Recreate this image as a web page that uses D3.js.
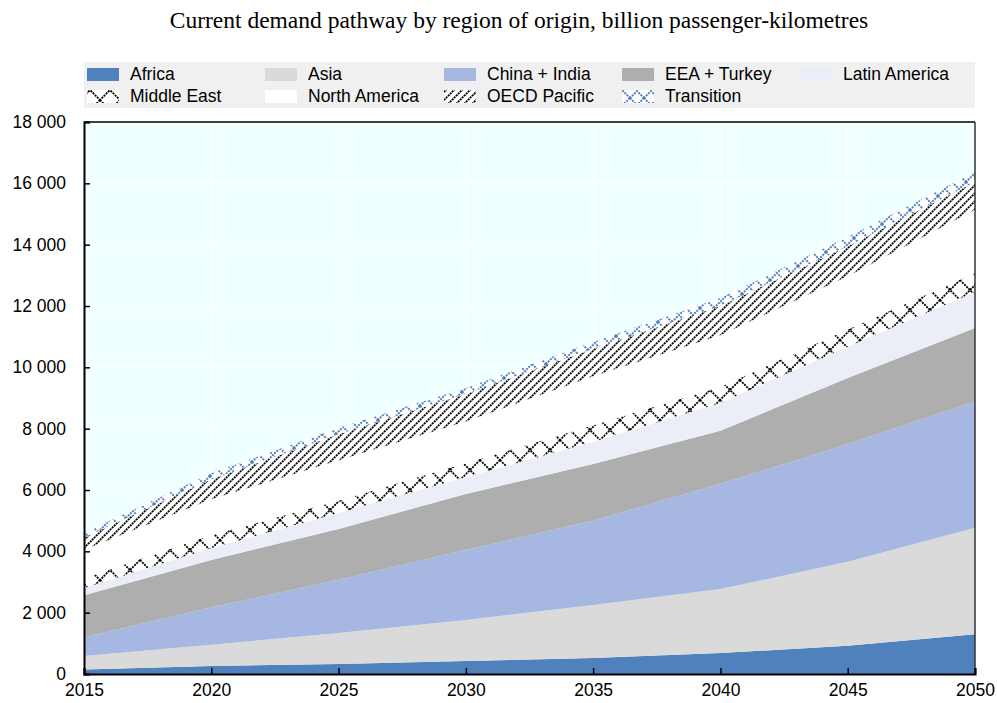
<!DOCTYPE html>
<html><head><meta charset="utf-8">
<script src="https://cdn.jsdelivr.net/npm/d3@7"></script>
<style>body{margin:0;background:#fff}svg{display:block}</style>
</head><body><svg id="c" width="997" height="703"></svg>
<script>
const years = [2015, 2020, 2025, 2030, 2035, 2040, 2045, 2050];
const africa        = [150, 260, 330, 420, 520, 685, 920, 1300];
const asia          = [440, 690, 1010, 1340, 1730, 2085, 2740, 3470];
const chinaIndia    = [610, 1220, 1730, 2280, 2750, 3430, 3830, 4110];
const eeaTurkey     = [1370, 1550, 1660, 1830, 1850, 1730, 2160, 2400];
const latinAmerica  = [235, 390, 520, 550, 720, 910, 1020, 1180];
const middleEast    = [320, 420, 400, 460, 540, 530, 560, 620];
const northAmerica  = [925, 1170, 1320, 1350, 1600, 1680, 1740, 2060];
const oecdPacific   = [400, 650, 850, 900, 900, 950, 980, 900];
const transition    = [150, 200, 200, 200, 220, 260, 300, 330];
const seriesNames = ["Africa","Asia","China + India","EEA + Turkey","Latin America","Middle East","North America","OECD Pacific","Transition"];
const seriesValues = [africa, asia, chinaIndia, eeaTurkey, latinAmerica, middleEast, northAmerica, oecdPacific, transition];
const yTicks = [0,2000,4000,6000,8000,10000,12000,14000,16000,18000];
const xTicks = [2015,2020,2025,2030,2035,2040,2045,2050];
const title = "Current demand pathway by region of origin, billion passenger-kilometres";

const fills = ["#4F81BD","#DADADA","#A6B7E1","#AEAEAE","#EBEEF6","url(#pME)","#FFFFFF","url(#pOP)","url(#pTR)"];

const svg = d3.select("#c");
const W = 997, H = 703;
const m = {l:84, r:22, t:122, b:29};
const x = d3.scaleLinear().domain([2015,2050]).range([m.l, W-m.r]);
const y = d3.scaleLinear().domain([0,18000]).range([H-m.b, m.t]);

// patterns
const defs = svg.append("defs");
function xPattern(id, size, color, sw, dash){
  const p = defs.append("pattern").attr("id",id).attr("patternUnits","userSpaceOnUse")
    .attr("width",size).attr("height",size);
  p.append("rect").attr("width",size).attr("height",size).attr("fill","#fff");
  p.append("path").attr("d",`M0,0L${size},${size}M${size},0L0,${size}`)
    .attr("stroke",color).attr("stroke-width",sw).attr("stroke-dasharray",dash).attr("fill","none");
}
xPattern("pME", 20, "#000", 1.8, "2 1");
xPattern("pTR", 14, "#4F81BD", 2, "2 1");
{
  const s = 8;
  const p = defs.append("pattern").attr("id","pOP").attr("patternUnits","userSpaceOnUse")
    .attr("width",s).attr("height",s);
  p.append("rect").attr("width",s).attr("height",s).attr("fill","#fff");
  p.append("path").attr("d",`M0,${s}L${s},0M${-s/2},${s/2}L${s/2},${-s/2}M${s/2},${s*1.5}L${s*1.5},${s/2}`)
    .attr("stroke","#000").attr("stroke-width",1.8).attr("stroke-dasharray","2 0.8").attr("fill","none");
}

// title
svg.append("text").attr("x",519).attr("y",28).attr("text-anchor","middle")
  .attr("font-family","Liberation Serif, Times New Roman, serif").attr("font-size",23.5)
  .attr("fill","#000").text(title);

// legend
svg.append("rect").attr("x",84).attr("y",62).attr("width",891).attr("height",46).attr("fill","#F0F0F0");
const colX = [87, 265, 444, 622, 800];
seriesNames.forEach((n,i)=>{
  const col = i % 5, row = Math.floor(i/5);
  const cy = 74 + row*22;
  const g = svg.append("g");
  g.append("rect").attr("x",colX[col]).attr("y",cy-6).attr("width",32).attr("height",13).attr("fill",fills[i]);
  g.append("text").attr("x",colX[col]+43).attr("y",cy+6)
    .attr("font-family","Liberation Sans, Arial, sans-serif").attr("font-size",17.5)
    .attr("fill","#000").text(n);
});

// plot background
svg.append("rect").attr("x",m.l).attr("y",m.t).attr("width",W-m.r-m.l).attr("height",H-m.b-m.t).attr("fill","#F0FFFF");
// grid
svg.append("g").selectAll("line").data(yTicks.slice(1,-1)).join("line")
  .attr("x1",m.l).attr("x2",W-m.r).attr("y1",d=>y(d)).attr("y2",d=>y(d)).attr("stroke","#fff").attr("stroke-width",1.5);
svg.append("g").selectAll("line").data(xTicks.slice(1,-1)).join("line")
  .attr("y1",m.t).attr("y2",H-m.b).attr("x1",d=>x(d)).attr("x2",d=>x(d)).attr("stroke","#fff").attr("stroke-width",1.5);

// stacked data
const table = years.map((yr,j)=>{ const o={year:yr}; seriesNames.forEach((n,i)=>o[n]=seriesValues[i][j]); return o; });
const stack = d3.stack().keys(seriesNames)(table);
const area = d3.area().x(d=>x(d.data.year)).y0(d=>y(d[0])).y1(d=>y(d[1]));
svg.append("g").selectAll("path").data(stack).join("path")
  .attr("d",area).attr("fill",(d,i)=>fills[i]);

// frame
svg.append("line").attr("x1",m.l).attr("x2",W-m.r).attr("y1",m.t).attr("y2",m.t).attr("stroke","#000").attr("stroke-width",1.5);
svg.append("line").attr("x1",W-m.r).attr("x2",W-m.r).attr("y1",m.t).attr("y2",H-m.b).attr("stroke","#333").attr("stroke-width",1.5);

// axes
const fmt = d => d3.format(",")(d).replace(/,/g," ");
const ya = svg.append("g").attr("transform",`translate(${m.l},0)`)
  .call(d3.axisLeft(y).tickValues(yTicks).tickSize(-6).tickPadding(18).tickFormat(fmt));
ya.select(".domain").attr("stroke","#000").attr("stroke-width",2);
ya.selectAll(".tick line").attr("stroke","#000").attr("stroke-width",1.5);
ya.selectAll("text").attr("font-family","Liberation Sans, Arial, sans-serif").attr("font-size",17.5).attr("fill","#000");

const xa = svg.append("g").attr("transform",`translate(0,${H-m.b})`)
  .call(d3.axisBottom(x).tickValues(xTicks).tickSize(-6).tickPadding(10).tickFormat(d3.format("d")));
xa.select(".domain").attr("stroke","#000").attr("stroke-width",2);
xa.selectAll(".tick line").attr("stroke","#000").attr("stroke-width",1.5);
xa.selectAll("text").attr("font-family","Liberation Sans, Arial, sans-serif").attr("font-size",17.5).attr("fill","#000");
</script></body></html>
